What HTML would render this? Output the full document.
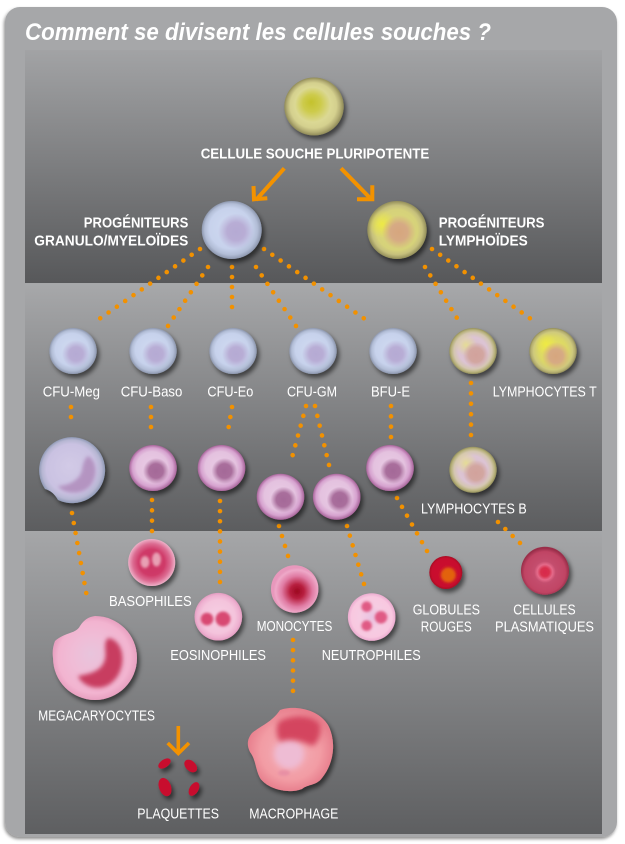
<!DOCTYPE html>
<html><head><meta charset="utf-8">
<style>
html,body{margin:0;padding:0;background:#fff;}
svg{display:block;}
text{font-family:"Liberation Sans",sans-serif;fill:#fff;}
.l{font-size:14.5px;}
.b{font-size:15px;font-weight:bold;}
</style></head><body>
<svg width="625" height="844" viewBox="0 0 625 844" xmlns="http://www.w3.org/2000/svg">
<defs>
 <linearGradient id="pg1" x1="0" y1="0" x2="0" y2="1"><stop offset="0" stop-color="#a2a3a5"/><stop offset="1" stop-color="#57585a"/></linearGradient>
 <linearGradient id="pg2" x1="0" y1="0" x2="0" y2="1"><stop offset="0" stop-color="#a7a8aa"/><stop offset="1" stop-color="#5c5d5f"/></linearGradient>
 <linearGradient id="pg3" x1="0" y1="0" x2="0" y2="1"><stop offset="0" stop-color="#a5a6a8"/><stop offset="1" stop-color="#5e5f61"/></linearGradient>
 <filter id="cardsh" x="-5%" y="-5%" width="110%" height="110%"><feDropShadow dx="-1" dy="2" stdDeviation="1.5" flood-color="#000" flood-opacity="0.45"/></filter>
 <filter id="sh" x="-40%" y="-40%" width="180%" height="180%"><feDropShadow dx="2.5" dy="3.5" stdDeviation="2.5" flood-color="#000" flood-opacity="0.55"/></filter>
 <filter id="bl1" x="-50%" y="-50%" width="200%" height="200%"><feGaussianBlur stdDeviation="1.2"/></filter>
 <filter id="bl15" x="-50%" y="-50%" width="200%" height="200%"><feGaussianBlur stdDeviation="1.8"/></filter>
 <filter id="bl2" x="-50%" y="-50%" width="200%" height="200%"><feGaussianBlur stdDeviation="2.2"/></filter>
 <filter id="bl3" x="-50%" y="-50%" width="200%" height="200%"><feGaussianBlur stdDeviation="3"/></filter>

 <radialGradient id="gStem" fx=".45" fy=".42"><stop offset="0" stop-color="#c4c22c"/><stop offset=".3" stop-color="#cdcb4c"/><stop offset=".6" stop-color="#dbd894"/><stop offset=".78" stop-color="#d4d08e"/><stop offset=".9" stop-color="#b4ae74"/><stop offset="1" stop-color="#8f8a58"/></radialGradient>
 <radialGradient id="gBlue" fx=".42" fy=".4"><stop offset="0" stop-color="#cfd9f0"/><stop offset=".7" stop-color="#c7d2ec"/><stop offset=".88" stop-color="#b2bdd6"/><stop offset="1" stop-color="#8d97ae"/></radialGradient>
 <radialGradient id="gNucB"><stop offset="0" stop-color="#b5aad3"/><stop offset=".5" stop-color="#b8add5"/><stop offset="1" stop-color="#b8add5" stop-opacity="0"/></radialGradient>
 <radialGradient id="gPink" fx=".45" fy=".42"><stop offset="0" stop-color="#e8cae4"/><stop offset=".65" stop-color="#e4c2df"/><stop offset=".85" stop-color="#d6a2cf"/><stop offset="1" stop-color="#a8649a"/></radialGradient>
 <radialGradient id="gNucP"><stop offset="0" stop-color="#a46a98"/><stop offset=".55" stop-color="#a96e9c"/><stop offset="1" stop-color="#a96e9c" stop-opacity="0"/></radialGradient>
 <radialGradient id="gLymP"><stop offset="0" stop-color="#d8bcc8"/><stop offset=".6" stop-color="#dcc4d4"/><stop offset=".8" stop-color="#d4c6b0"/><stop offset=".92" stop-color="#b8b27c"/><stop offset="1" stop-color="#948f5c"/></radialGradient>
 <radialGradient id="gYel"><stop offset="0" stop-color="#e6e08c" stop-opacity=".85"/><stop offset="1" stop-color="#e6e08c" stop-opacity="0"/></radialGradient>
 <radialGradient id="gYelB"><stop offset="0" stop-color="#f0ec40" stop-opacity=".9"/><stop offset="1" stop-color="#f0ec40" stop-opacity="0"/></radialGradient>
 <radialGradient id="gNucL"><stop offset="0" stop-color="#d2a29c"/><stop offset=".55" stop-color="#d2a6a0"/><stop offset="1" stop-color="#d2a6a0" stop-opacity="0"/></radialGradient>
 <radialGradient id="gNucT"><stop offset="0" stop-color="#d6a67e"/><stop offset=".5" stop-color="#d6aa84"/><stop offset="1" stop-color="#d6aa84" stop-opacity="0"/></radialGradient>
 <radialGradient id="gLymT"><stop offset="0" stop-color="#e8e45c"/><stop offset=".6" stop-color="#dcd866"/><stop offset=".82" stop-color="#cfca7c"/><stop offset=".93" stop-color="#b4ae70"/><stop offset="1" stop-color="#908b58"/></radialGradient>
 <radialGradient id="gLym0"><stop offset="0" stop-color="#dcd878"/><stop offset=".7" stop-color="#d6d27a"/><stop offset=".85" stop-color="#c6c07c"/><stop offset="1" stop-color="#928d5a"/></radialGradient>
 <radialGradient id="gLav" fx=".45" fy=".42"><stop offset="0" stop-color="#d2cae6"/><stop offset=".75" stop-color="#cac2e2"/><stop offset=".9" stop-color="#b6b6d2"/><stop offset="1" stop-color="#909ab6"/></radialGradient>
 <radialGradient id="gMega" fx=".45" fy=".45"><stop offset="0" stop-color="#e8c4dc"/><stop offset=".5" stop-color="#f0bcd6"/><stop offset=".85" stop-color="#f2b4d0"/><stop offset="1" stop-color="#e8a0c0"/></radialGradient>
 <radialGradient id="gMac" fx=".5" fy=".55"><stop offset="0" stop-color="#f4b0b8"/><stop offset=".7" stop-color="#f29ca4"/><stop offset="1" stop-color="#e8808e"/></radialGradient>
 <radialGradient id="gBaso"><stop offset="0" stop-color="#cc3462"/><stop offset=".55" stop-color="#cf3a68"/><stop offset=".8" stop-color="#dc6c92"/><stop offset="1" stop-color="#eeb0c8"/></radialGradient>
 <radialGradient id="gEo"><stop offset="0" stop-color="#f6d0e4"/><stop offset=".7" stop-color="#f4c4dc"/><stop offset=".9" stop-color="#eeb0d0"/><stop offset="1" stop-color="#e29cc0"/></radialGradient>
 <radialGradient id="gMono" cx=".55" cy=".55" fx=".55" fy=".55"><stop offset="0" stop-color="#9c0620"/><stop offset=".3" stop-color="#b82040"/><stop offset=".65" stop-color="#e07ca4"/><stop offset=".9" stop-color="#eea8c8"/><stop offset="1" stop-color="#e898bc"/></radialGradient>
 <radialGradient id="gNeu"><stop offset="0" stop-color="#e8c4e2"/><stop offset=".5" stop-color="#f6cce2"/><stop offset=".85" stop-color="#f8c8e0"/><stop offset="1" stop-color="#ecacd0"/></radialGradient>
 <radialGradient id="gGR"><stop offset="0" stop-color="#cc1030"/><stop offset=".85" stop-color="#c80e2e"/><stop offset="1" stop-color="#a80a24"/></radialGradient>
 <radialGradient id="gPla" cy=".53" fy=".53"><stop offset="0" stop-color="#d8284c"/><stop offset=".18" stop-color="#d8304e"/><stop offset=".32" stop-color="#e46a8a"/><stop offset=".45" stop-color="#c44e6e"/><stop offset=".85" stop-color="#c04464"/><stop offset="1" stop-color="#9a2e4a"/></radialGradient>
</defs>

<!-- card -->
<rect x="5" y="7" width="612" height="830" rx="15" fill="#a6a7a9" filter="url(#cardsh)"/>
<rect x="25" y="50" width="577" height="233" fill="url(#pg1)"/>
<rect x="25" y="284" width="577" height="247" fill="url(#pg2)"/>
<rect x="25" y="532" width="577" height="302" fill="url(#pg3)"/>

<text x="25" y="40" font-size="24" font-style="italic" font-weight="bold" textLength="466" lengthAdjust="spacingAndGlyphs">Comment se divisent les cellules souches ?</text>

<!-- dotted connectors -->
<g stroke="#f29100" stroke-width="4.6" stroke-linecap="round" fill="none">
 <line x1="200" y1="249" x2="92" y2="324" stroke-dasharray="0 10.12"/>
 <line x1="208" y1="267" x2="168" y2="326" stroke-dasharray="0 10.18"/>
 <line x1="232" y1="267" x2="232" y2="317" stroke-dasharray="0 10"/>
 <line x1="256" y1="267" x2="296" y2="326" stroke-dasharray="0 10.18"/>
 <line x1="264" y1="249" x2="372" y2="324" stroke-dasharray="0 10.12"/>
 <line x1="425" y1="267" x2="462" y2="326" stroke-dasharray="0 9.95"/>
 <line x1="432" y1="249" x2="538" y2="324" stroke-dasharray="0 9.99"/>

 <line x1="71" y1="407" x2="71" y2="427" stroke-dasharray="0 10"/>
 <line x1="151" y1="407" x2="151" y2="437" stroke-dasharray="0 10"/>
 <line x1="232" y1="407" x2="227" y2="437" stroke-dasharray="0 10.14"/>
 <line x1="306" y1="406" x2="290" y2="465" stroke-dasharray="0 10.19"/>
 <line x1="315" y1="406" x2="329" y2="465" stroke-dasharray="0 10.1"/>
 <line x1="391" y1="406" x2="391" y2="437" stroke-dasharray="0 10.33"/>
 <line x1="471" y1="383" x2="471" y2="435" stroke-dasharray="0 10.4"/>

 <line x1="72" y1="513" x2="88" y2="603" stroke-dasharray="0 10.16"/>
 <line x1="152" y1="500" x2="152" y2="531" stroke-dasharray="0 10.33"/>
 <line x1="220" y1="501" x2="220" y2="582" stroke-dasharray="0 10.12"/>
 <line x1="279" y1="526" x2="288" y2="556" stroke-dasharray="0 10.43"/>
 <line x1="347" y1="526" x2="364" y2="584" stroke-dasharray="0 10.07"/>
 <line x1="397" y1="498" x2="427" y2="551" stroke-dasharray="0 10.15"/>
 <line x1="498" y1="522" x2="520" y2="543" stroke-dasharray="0 10.13"/>
 <line x1="293" y1="640" x2="293" y2="701" stroke-dasharray="0 10.17"/>
</g>

<!-- arrows -->
<g stroke="#f39200" stroke-width="4" fill="none" stroke-linejoin="miter">
 <line x1="284.3" y1="168.3" x2="256" y2="200"/>
 <polyline points="253.5,186 254,199.3 267.3,198.3"/>
 <line x1="341" y1="168.3" x2="371" y2="199"/>
 <polyline points="372.3,185.3 372.3,199.3 357,199.3"/>
 <line x1="178.3" y1="726" x2="178.3" y2="752" stroke-width="3.6"/>
 <polyline points="167.7,743 178.3,753.5 189,743" stroke-width="3.6"/>
</g>

<!-- Row 0 -->
<g filter="url(#sh)"><ellipse cx="314" cy="106.5" rx="29.7" ry="29" fill="url(#gStem)"/></g>
<g filter="url(#sh)">
 <ellipse cx="231.7" cy="230" rx="30" ry="29" fill="url(#gBlue)"/>
 <circle cx="236" cy="231.5" r="18" fill="url(#gNucB)"/>
</g>
<g filter="url(#sh)">
 <ellipse cx="397" cy="230" rx="29.7" ry="29" fill="url(#gLym0)"/>
 <circle cx="382" cy="224" r="14" fill="url(#gYelB)"/>
 <circle cx="399" cy="232" r="17" fill="url(#gNucT)"/>
</g>

<text class="b" x="200.7" y="158.3" textLength="228.6" lengthAdjust="spacingAndGlyphs">CELLULE SOUCHE PLURIPOTENTE</text>
<text class="b" x="83.8" y="227.3" textLength="104.5" lengthAdjust="spacingAndGlyphs">PROGÉNITEURS</text>
<text class="b" x="34.3" y="245.7" textLength="154" lengthAdjust="spacingAndGlyphs">GRANULO/MYELOÏDES</text>
<text class="b" x="438.8" y="227.3" textLength="105.7" lengthAdjust="spacingAndGlyphs">PROGÉNITEURS</text>
<text class="b" x="438.8" y="245.7" textLength="88.9" lengthAdjust="spacingAndGlyphs">LYMPHOÏDES</text>

<!-- Row 1 -->
<g filter="url(#sh)">
 <ellipse cx="73" cy="351" rx="23.7" ry="23" fill="url(#gBlue)"/><circle cx="76" cy="354" r="14" fill="url(#gNucB)"/>
 <ellipse cx="153" cy="351" rx="23.7" ry="23" fill="url(#gBlue)"/><circle cx="156" cy="354" r="14" fill="url(#gNucB)"/>
 <ellipse cx="233" cy="351" rx="23.7" ry="23" fill="url(#gBlue)"/><circle cx="236" cy="354" r="14" fill="url(#gNucB)"/>
 <ellipse cx="313" cy="351" rx="23.7" ry="23" fill="url(#gBlue)"/><circle cx="316" cy="354" r="14" fill="url(#gNucB)"/>
 <ellipse cx="393" cy="351" rx="23.7" ry="23" fill="url(#gBlue)"/><circle cx="396" cy="354" r="14" fill="url(#gNucB)"/>
</g>
<g filter="url(#sh)">
 <ellipse cx="473" cy="351" rx="23.7" ry="23" fill="url(#gLymP)"/>
 <circle cx="466" cy="345" r="11" fill="url(#gYel)"/>
 <circle cx="476" cy="355" r="13" fill="url(#gNucL)"/>
</g>
<g filter="url(#sh)">
 <ellipse cx="553" cy="351" rx="23.7" ry="23" fill="url(#gLymT)"/>
 <circle cx="546" cy="344" r="11" fill="url(#gYelB)"/>
 <circle cx="556" cy="356" r="14" fill="url(#gNucT)"/>
</g>

<text class="l" x="42.7" y="396.7" textLength="57.3" lengthAdjust="spacingAndGlyphs">CFU-Meg</text>
<text class="l" x="120.7" y="396.7" textLength="61.7" lengthAdjust="spacingAndGlyphs">CFU-Baso</text>
<text class="l" x="207.4" y="396.7" textLength="45.9" lengthAdjust="spacingAndGlyphs">CFU-Eo</text>
<text class="l" x="287" y="396.7" textLength="50" lengthAdjust="spacingAndGlyphs">CFU-GM</text>
<text class="l" x="371" y="396.7" textLength="39" lengthAdjust="spacingAndGlyphs">BFU-E</text>
<text class="l" x="492.7" y="396.7" textLength="104" lengthAdjust="spacingAndGlyphs">LYMPHOCYTES T</text>

<!-- Row 2 -->
<g filter="url(#sh)">
 <path d="M45 489 Q53 491 58 500 A33 33 0 1 0 45 489 Z" fill="url(#gLav)"/>
 <path d="M88 456 C100 462 98 488 80 492 C72 494 62 492 58 486 C68 486 80 480 82 470 C83 463 85 458 88 456 Z" fill="#b08cbc" opacity="0.85" filter="url(#bl15)"/>
</g>
<g filter="url(#sh)">
 <ellipse cx="153" cy="468" rx="23.8" ry="23" fill="url(#gPink)"/><circle cx="156" cy="471" r="13" fill="url(#gNucP)"/>
 <ellipse cx="221.5" cy="468" rx="23.8" ry="23" fill="url(#gPink)"/><circle cx="224.5" cy="471" r="13" fill="url(#gNucP)"/>
 <ellipse cx="280.5" cy="496.7" rx="23.8" ry="23" fill="url(#gPink)"/><circle cx="283.5" cy="499.7" r="13" fill="url(#gNucP)"/>
 <ellipse cx="336.7" cy="496.7" rx="23.8" ry="23" fill="url(#gPink)"/><circle cx="339.7" cy="499.7" r="13" fill="url(#gNucP)"/>
 <ellipse cx="390" cy="468" rx="23.8" ry="23" fill="url(#gPink)"/><circle cx="393" cy="471" r="13" fill="url(#gNucP)"/>
</g>
<g filter="url(#sh)">
 <ellipse cx="473" cy="469.7" rx="23.7" ry="23" fill="url(#gLymP)"/>
 <circle cx="466" cy="463" r="11" fill="url(#gYel)"/>
 <circle cx="476" cy="473" r="13" fill="url(#gNucL)"/>
</g>
<text class="l" x="421" y="513.3" textLength="105.7" lengthAdjust="spacingAndGlyphs">LYMPHOCYTES B</text>

<!-- Row 3 -->
<g filter="url(#sh)">
 <circle cx="151.7" cy="562.5" r="23.5" fill="url(#gBaso)"/>
 <ellipse cx="145" cy="562" rx="4.5" ry="6" fill="#e8a0b4" filter="url(#bl1)"/>
 <ellipse cx="156.5" cy="559.5" rx="4.5" ry="7" fill="#e8a0b4" filter="url(#bl1)"/>
</g>
<g filter="url(#sh)">
 <circle cx="218.3" cy="616.7" r="23.8" fill="url(#gEo)"/>
 <circle cx="207" cy="619" r="6.3" fill="#d84a72" filter="url(#bl1)"/>
 <circle cx="223" cy="619" r="7.5" fill="#d84a72" filter="url(#bl1)"/>
</g>
<g filter="url(#sh)"><circle cx="294.7" cy="589" r="23.7" fill="url(#gMono)"/></g>
<g filter="url(#sh)">
 <circle cx="371.7" cy="617" r="23.8" fill="url(#gNeu)"/>
 <circle cx="366.7" cy="606.7" r="5.3" fill="#e05a84" filter="url(#bl1)"/>
 <circle cx="381" cy="617.3" r="6.3" fill="#e05a84" filter="url(#bl1)"/>
 <circle cx="366.7" cy="625.7" r="5.3" fill="#e05a84" filter="url(#bl1)"/>
</g>
<g filter="url(#sh)">
 <circle cx="445.8" cy="572.5" r="16.5" fill="url(#gGR)"/>
 <circle cx="448.3" cy="575" r="7.5" fill="#e2620e" filter="url(#bl1)"/>
</g>
<g filter="url(#sh)"><circle cx="545" cy="570.7" r="24" fill="url(#gPla)"/></g>

<!-- megakaryocyte -->
<g filter="url(#sh)">
 <path d="M55 641 C65 632 76 634 80 626 C84 620 88 617 95 616 A42 42 0 1 1 53 658 C52 652 53 646 55 641 Z" fill="url(#gMega)"/>
 <path d="M108 638 C126 640 128 672 110 684 C98 692 82 686 78 676 C88 674 100 672 104 662 C108 654 102 644 108 638 Z" fill="#c83c60" filter="url(#bl2)"/>
</g>

<!-- macrophage -->
<g filter="url(#sh)">
 <path d="M280 710 C292 705 318 708 328 725 C336 740 335 762 322 778 C316 786 308 784 302 789 C290 794 268 790 260 778 C255 768 256 760 250 752 C246 744 248 738 252 733 C262 725 272 722 280 710 Z" fill="url(#gMac)"/>
 <circle cx="289" cy="754" r="15" fill="#eebcd4" filter="url(#bl3)"/>
 <path d="M278 722 C290 714 312 714 320 724 C322 734 318 744 312 746 C300 740 288 738 280 742 C276 736 276 728 278 722 Z" fill="#d4445e" filter="url(#bl3)"/>
 <ellipse cx="284" cy="773" rx="6" ry="3" fill="#e890a4" filter="url(#bl1)"/>
</g>

<!-- platelets -->
<g filter="url(#sh)" fill="#c8102e">
 <ellipse cx="164.5" cy="763.5" rx="7" ry="4" transform="rotate(-35 164.5 763.5)"/>
 <ellipse cx="190.7" cy="766" rx="7.5" ry="5" transform="rotate(45 190.7 766)"/>
 <ellipse cx="165" cy="787" rx="9.5" ry="6" transform="rotate(70 165 787)"/>
 <ellipse cx="194" cy="789" rx="7.5" ry="4.5" transform="rotate(-60 194 789)"/>
</g>

<text class="l" x="109" y="606" textLength="82.7" lengthAdjust="spacingAndGlyphs">BASOPHILES</text>
<text class="l" x="170.3" y="660" textLength="95.7" lengthAdjust="spacingAndGlyphs">EOSINOPHILES</text>
<text class="l" x="256.7" y="631" textLength="75.6" lengthAdjust="spacingAndGlyphs">MONOCYTES</text>
<text class="l" x="321.7" y="660" textLength="99" lengthAdjust="spacingAndGlyphs">NEUTROPHILES</text>
<text class="l" x="412.7" y="614.3" textLength="67.3" lengthAdjust="spacingAndGlyphs">GLOBULES</text>
<text class="l" x="420.7" y="631.7" textLength="51" lengthAdjust="spacingAndGlyphs">ROUGES</text>
<text class="l" x="513.3" y="614.3" textLength="62.3" lengthAdjust="spacingAndGlyphs">CELLULES</text>
<text class="l" x="495" y="631.7" textLength="99" lengthAdjust="spacingAndGlyphs">PLASMATIQUES</text>
<text class="l" x="38.3" y="720.7" textLength="116.7" lengthAdjust="spacingAndGlyphs">MEGACARYOCYTES</text>
<text class="l" x="137.3" y="818.3" textLength="81.7" lengthAdjust="spacingAndGlyphs">PLAQUETTES</text>
<text class="l" x="249.3" y="818.3" textLength="89" lengthAdjust="spacingAndGlyphs">MACROPHAGE</text>
</svg>
</body></html>
